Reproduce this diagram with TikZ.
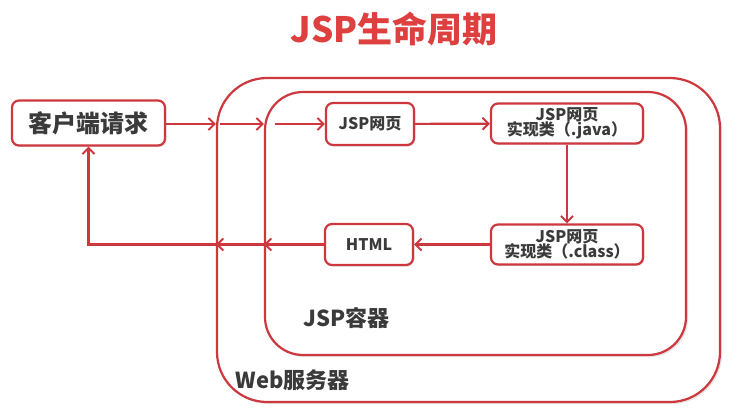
\documentclass[tikz,border=0pt]{standalone}
\usepackage{fontspec}
\setmainfont{Noto Sans CJK SC}
\usetikzlibrary{arrows.meta,shadows}
\definecolor{lcred}{RGB}{205,55,62}
\definecolor{lctitle}{RGB}{222,64,64}
\definecolor{lctext}{RGB}{58,58,58}
\tikzset{lcbox/.style={draw=lcred,line width=2.2pt,fill=white,rounded corners=7pt,
           align=center,text=lctext,font=\bfseries\fontsize{16}{17}\selectfont,
           drop shadow={opacity=0.2,shadow xshift=1.5pt,shadow yshift=-1.5pt}},
         lcframe/.style={draw=lcred,line width=2.2pt,fill=white,
           drop shadow={opacity=0.2,shadow xshift=2pt,shadow yshift=-2pt}},
         lcflow/.style={draw=lcred,line width=2.2pt,-{Straight Barb[length=6pt,width=12pt,line width=2pt]}},
         lclab/.style={text=lctext,font=\bfseries\fontsize{22}{24}\selectfont,anchor=west}}
\begin{document}
\begin{tikzpicture}[x=1pt,y=-1pt]
  \useasboundingbox (0,0) rectangle (737,418);
  % title
  \node[text=lctitle,font=\bfseries\fontsize{35}{38}\selectfont] (title) at (394,29) {JSP生命周期};
  % containers
  \node[lcframe,rounded corners=50pt,minimum width=503pt,minimum height=324pt] (web) at (468.5,240) {};
  \node[lcframe,rounded corners=38pt,minimum width=421pt,minimum height=263pt] (cont) at (475.5,223.5) {};
  \node[lclab] (weblab) at (232,380) {Web服务器};
  \node[lclab] (contlab) at (300,318) {JSP容器};
  % steps
  \node[lcbox,font=\bfseries\fontsize{24}{26}\selectfont,minimum width=153pt,minimum height=45pt] (client) at (88.5,123) {客户端请求};
  \node[lcbox,minimum width=88pt,minimum height=42pt] (page) at (370,124) {JSP网页};
  \node[lcbox,minimum width=152pt,minimum height=40pt,inner sep=0pt] (java) at (567,123.5) {JSP网页\\[-2pt]实现类（.java）};
  \node[lcbox,minimum width=152pt,minimum height=40pt,inner sep=0pt] (class) at (567,244.5) {JSP网页\\[-2pt]实现类（.class）};
  \node[lcbox,minimum width=88pt,minimum height=41pt] (html) at (369,244.5) {HTML};
  % request path
  \coordinate (w1) at (page.west -| web.west);
  \coordinate (c1) at (page.west -| cont.west);
  \draw[lcflow] (client.east |- page.west) -- (w1);
  \draw[lcflow,shorten <=4pt] (w1) -- (c1);
  \draw[lcflow,shorten <=11pt] (c1) -- (page);
  \draw[lcflow] (page) -- (java);
  \draw[lcflow] (java) -- (class);
  \draw[lcflow] (class) -- (html);
  % response path
  \coordinate (c2) at (html.west -| cont.west);
  \coordinate (w2) at (html.west -| web.west);
  \draw[lcflow] (html) -- (c2);
  \draw[lcflow] (c2) -- (w2);
  \draw[lcflow] (w2) -- (client |- html) -- (client);
\end{tikzpicture}
\end{document}
